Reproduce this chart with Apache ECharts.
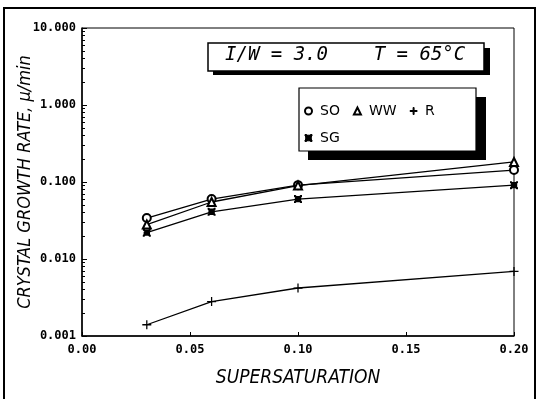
<!DOCTYPE html>
<html>
<head>
<meta charset="utf-8">
<script src="https://cdn.jsdelivr.net/npm/echarts@6/dist/echarts.min.js"></script>
<style>
  html, body { margin: 0; padding: 0; background: #fff; }
  #chart { width: 539px; height: 399px; }
</style>
</head>
<body>
<div id="chart"></div>
<script>
// supersaturation values (x) and growth rates per solvent (um/min)
var supersat = [0.03, 0.06, 0.10, 0.20];
var soRate = [0.034, 0.060, 0.091, 0.143];
var wwRate = [0.028, 0.055, 0.090, 0.182];
var rRate = [0.0014, 0.0028, 0.0042, 0.0069];
var sgRate = [0.022, 0.041, 0.060, 0.091];

var seriesNames = ["SO", "WW", "R", "SG"];

var plusPath = "path://M4.3,0 L5.7,0 L5.7,4.3 L10,4.3 L10,5.7 L5.7,5.7 L5.7,10 L4.3,10 L4.3,5.7 L0,5.7 L0,4.3 L4.3,4.3 Z";
var starPath = "path://M1,1 L9,1 L9,9 L1,9 Z M0,0 L2,0 L5,3 L8,0 L10,0 L10,2 L7,5 L10,8 L10,10 L8,10 L5,7 L2,10 L0,10 L0,8 L3,5 L0,2 Z";

function pairs(ys) {
  return supersat.map(function (x, i) { return [x, ys[i]]; });
}

var chart = echarts.init(document.getElementById("chart"));

var lineStyle = { color: "#000", width: 1.3 };
var nameFont = "'DejaVu Sans Condensed', 'DejaVu Sans', sans-serif";

var option = {
  animation: false,
  backgroundColor: "#fff",
  title: {
    text: "I/W = 3.0    T = 65°C",
    left: 225,
    top: 46,
    padding: 0,
    z: 10,
    textStyle: {
      fontFamily: "DejaVu Sans Mono",
      fontStyle: "italic",
      fontWeight: "normal",
      fontSize: 19,
      color: "#000"
    }
  },
  legend: {
    data: [
      { name: "SO", icon: "emptyCircle" },
      { name: "WW", icon: "emptyTriangle" },
      { name: "R", icon: plusPath },
      { name: "SG", icon: starPath }
    ],
    left: 304,
    top: 104,
    width: 140,
    padding: 0,
    itemGap: 13,
    itemWidth: 7,
    itemHeight: 7,
    z: 10,
    itemStyle: { color: "#000", borderColor: "#000", borderWidth: 1 },
    textStyle: {
      fontFamily: "DejaVu Sans",
      fontSize: 14,
      lineHeight: 14,
      color: "#000",
      padding: [0, 0, 0, 3]
    },
    lineStyle: { width: 0 }
  },
  grid: {
    left: 82,
    right: 25,
    top: 28,
    bottom: 63,
    show: true,
    borderColor: "#000",
    borderWidth: 1,
    backgroundColor: "transparent"
  },
  xAxis: {
    type: "value",
    min: 0,
    max: 0.2,
    interval: 0.05,
    name: "SUPERSATURATION",
    nameLocation: "middle",
    nameGap: 33,
    nameTextStyle: {
      fontFamily: nameFont,
      fontStyle: "italic",
      fontSize: 19,
      color: "#000"
    },
    axisLine: { lineStyle: { color: "#000", width: 1.5 } },
    axisTick: { inside: true, length: 4, lineStyle: { color: "#000" } },
    splitLine: { show: false },
    axisLabel: {
      color: "#000",
      fontFamily: "DejaVu Sans Mono",
      fontWeight: "bold",
      fontSize: 12,
      margin: 8,
      formatter: function (v) { return v.toFixed(2); }
    }
  },
  yAxis: {
    type: "log",
    logBase: 10,
    min: 0.001,
    max: 10,
    name: "CRYSTAL GROWTH RATE, µ/min",
    nameLocation: "middle",
    nameGap: 48,
    nameMoveOverlap: false,
    nameTextStyle: {
      fontFamily: nameFont,
      fontStyle: "italic",
      fontSize: 18,
      color: "#000"
    },
    axisLine: { show: true, lineStyle: { color: "#000", width: 1.5 } },
    axisTick: { show: true, inside: true, length: 5, lineStyle: { color: "#000" } },
    minorTick: { show: true, splitNumber: 9, length: 3, lineStyle: { color: "#000" } },
    splitLine: { show: false },
    axisLabel: {
      color: "#000",
      fontFamily: "DejaVu Sans Mono",
      fontWeight: "bold",
      fontSize: 12,
      margin: 6,
      formatter: function (v) { return v.toFixed(3); }
    }
  },
  series: [
    {
      name: "SO", type: "line", data: pairs(soRate),
      symbol: "emptyCircle", symbolSize: 8,
      lineStyle: lineStyle, itemStyle: { color: "#000", borderWidth: 1.3 }
    },
    {
      name: "WW", type: "line", data: pairs(wwRate),
      symbol: "emptyTriangle", symbolSize: 8,
      lineStyle: lineStyle, itemStyle: { color: "#000", borderWidth: 1.3 }
    },
    {
      name: "R", type: "line", data: pairs(rRate),
      symbol: plusPath, symbolSize: 9,
      lineStyle: lineStyle, itemStyle: { color: "#000", borderWidth: 0 }
    },
    {
      name: "SG", type: "line", data: pairs(sgRate),
      symbol: starPath, symbolSize: 8,
      lineStyle: lineStyle, itemStyle: { color: "#000", borderWidth: 0 }
    }
  ],
  graphic: [
    // outer figure frame
    {
      type: "rect", silent: true, z: 0,
      shape: { x: 4, y: 8, width: 531, height: 400 },
      style: { fill: "none", stroke: "#000", lineWidth: 2 }
    },
    // title box with drop shadow
    {
      type: "rect", silent: true, z: 5,
      shape: { x: 213, y: 48, width: 277, height: 27 },
      style: { fill: "#000" }
    },
    {
      type: "rect", silent: true, z: 6,
      shape: { x: 208, y: 43, width: 276, height: 28 },
      style: { fill: "#fff", stroke: "#000", lineWidth: 1.5 }
    },
    // legend box with drop shadow
    {
      type: "rect", silent: true, z: 5,
      shape: { x: 308, y: 97, width: 178, height: 63 },
      style: { fill: "#000" }
    },
    {
      type: "rect", silent: true, z: 6,
      shape: { x: 299, y: 88, width: 177, height: 63 },
      style: { fill: "#fff", stroke: "#000", lineWidth: 1.2 }
    }
  ]
};

chart.setOption(option);
</script>
</body>
</html>
